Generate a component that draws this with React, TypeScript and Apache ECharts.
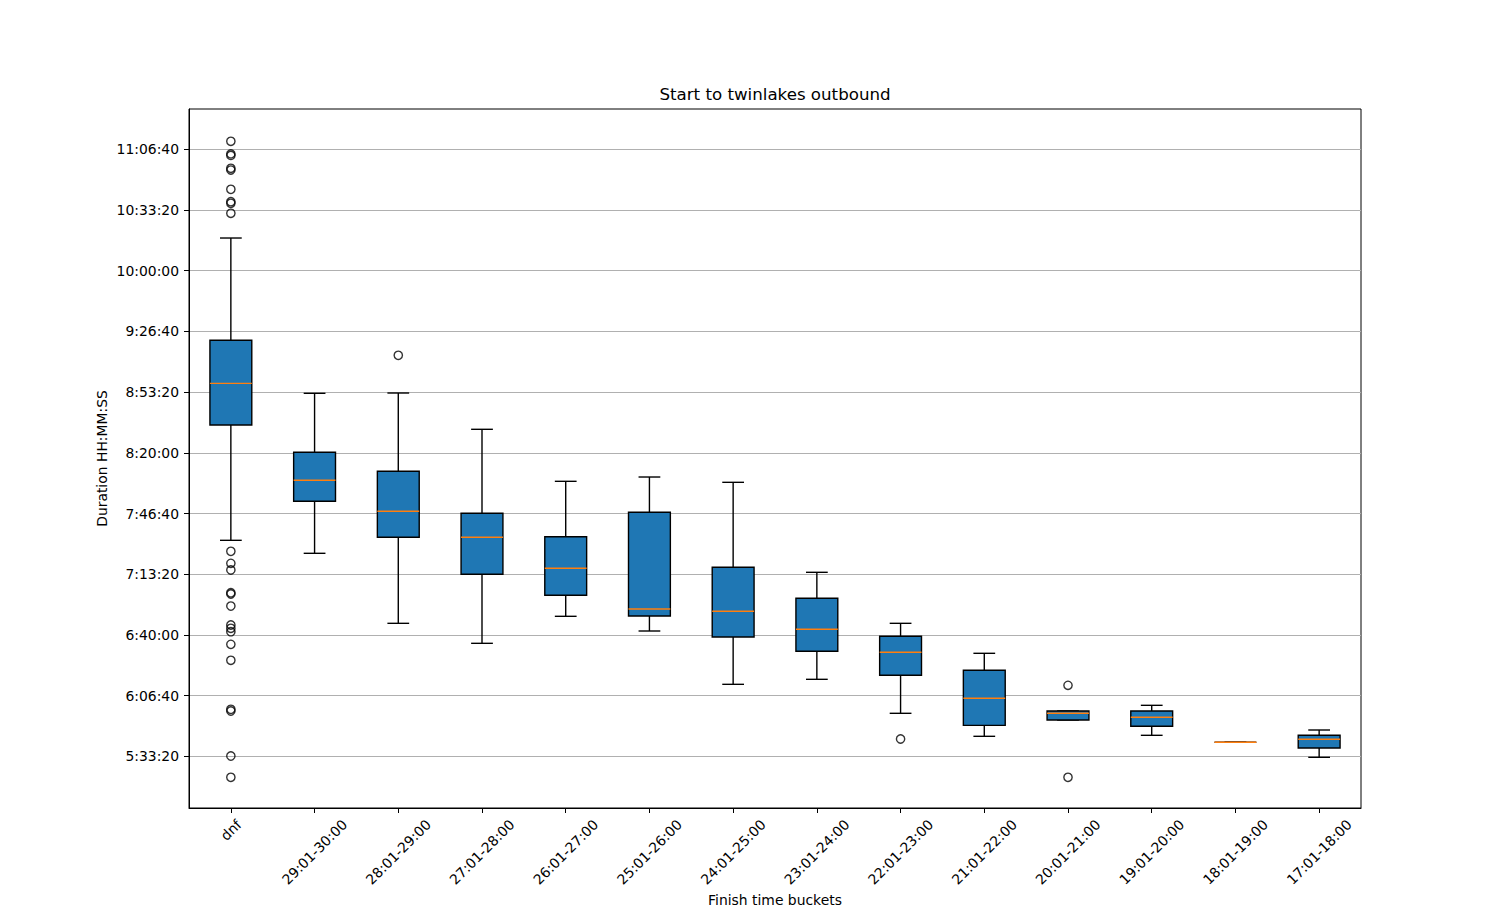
import React, { useEffect, useRef } from "react";
import * as echarts from "echarts";

const categories = [
  "dnf", "29:01-30:00", "28:01-29:00", "27:01-28:00", "26:01-27:00", "25:01-26:00",
  "24:01-25:00", "23:01-24:00", "22:01-23:00", "21:01-22:00", "20:01-21:00",
  "19:01-20:00", "18:01-19:00", "17:01-18:00",
];

// [lower whisker, Q1, median, Q3, upper whisker] in seconds
const boxStats = [
  [27117, 30916, 32290, 33707, 37078],
  [26689, 28402, 29094, 30017, 31961],
  [24382, 27216, 28073, 29391, 31971],
  [23723, 25997, 27216, 28007, 30775],
  [24613, 25305, 26195, 27236, 29061],
  [24129, 24623, 24854, 28040, 29203],
  [22372, 23931, 24778, 26228, 29028],
  [22537, 23460, 24185, 25206, 26063],
  [21417, 22669, 23427, 23954, 24382],
  [20659, 21021, 21911, 22834, 23394],
  [21196, 21196, 21417, 21493, 21493],
  [20692, 20989, 21285, 21493, 21680],
  [20461, 20461, 20461, 20461, 20461],
  [19967, 20273, 20560, 20692, 20867],
];

// [category index, seconds]
const outliers = [
  [0, 40264], [0, 39850], [0, 39800], [0, 39375], [0, 39318], [0, 38683],
  [0, 38274], [0, 38221], [0, 37892], [0, 26755], [0, 26359], [0, 26139],
  [0, 25391], [0, 25348], [0, 24952], [0, 24326], [0, 24218], [0, 24106],
  [0, 23690], [0, 23163], [0, 21549], [0, 21493], [0, 20010], [0, 19308],
  [2, 33213],
  [8, 20570],
  [10, 22339], [10, 19308],
];

const yTicks = [20000, 22000, 24000, 26000, 28000, 30000, 32000, 34000, 36000, 38000, 40000];
const yMin = 18297;
const yMax = 41329;

const FONT = "DejaVu Sans";

function fmt(sec: number): string {
  const s = Math.round(sec);
  const h = Math.floor(s / 3600);
  const m = Math.floor((s % 3600) / 60);
  const ss = s % 60;
  return `${h}:${String(m).padStart(2, "0")}:${String(ss).padStart(2, "0")}`;
}

export default function App() {
  const ref = useRef<HTMLDivElement>(null);
  useEffect(() => {
    if (!ref.current) return;
    const chart = echarts.init(ref.current, null, { renderer: "svg" });
    const boxData = boxStats.map((b, i) => [i, ...b]);
    chart.setOption({
      animation: false,
      backgroundColor: "#ffffff",
      title: {
        text: "Start to twinlakes outbound",
        left: 775,
        top: 86,
        padding: 0,
        textAlign: "center",
        textStyle: { fontFamily: FONT, fontSize: 16.67, fontWeight: "normal", color: "#000" },
      },
      grid: {
        left: 189, right: 151, top: 109, bottom: 101,
        outerBoundsMode: "none",
        containLabel: false,
        show: true, borderColor: "#000", borderWidth: 1, backgroundColor: "transparent",
      },
      xAxis: {
        type: "category",
        data: categories,
        boundaryGap: true,
        name: "Finish time buckets",
        nameLocation: "middle",
        nameGap: 85,
        nameMoveOverlap: false,
        nameTextStyle: { fontFamily: FONT, fontSize: 13.9, color: "#000" },
        axisLine: { show: true, lineStyle: { color: "#000", width: 1 } },
        axisTick: { show: true, alignWithLabel: true, length: 5, lineStyle: { color: "#000", width: 1 } },
        axisLabel: {
          interval: 0,
          rotate: 45,
          align: "center",
          verticalAlign: "middle",
          margin: 44,
          fontFamily: FONT,
          fontSize: 13.9,
          color: "#000",
          formatter: (v: string) => (v === "dnf" ? "{d|" + v + "}" : v),
          rich: {
            d: { padding: [0, 0, 31, 31], fontFamily: FONT, fontSize: 13.9, color: "#000" },
          },
        },
        splitLine: { show: false },
      },
      yAxis: {
        type: "value",
        min: yMin,
        max: yMax,
        name: "Duration HH:MM:SS",
        nameLocation: "middle",
        nameGap: 80,
        nameMoveOverlap: false,
        nameTextStyle: { fontFamily: FONT, fontSize: 13.9, color: "#000" },
        axisLine: { show: true, lineStyle: { color: "#000", width: 1 } },
        axisTick: { show: true, length: 5, customValues: yTicks, lineStyle: { color: "#000", width: 1 } },
        axisLabel: {
          customValues: yTicks,
          margin: 10,
          fontFamily: FONT,
          fontSize: 13.9,
          color: "#000",
          formatter: (v: number) => fmt(v),
        },
        splitLine: { show: true, lineStyle: { color: "#b0b0b0", width: 1.1 } },
      },
      series: [
        {
          type: "custom",
          data: boxData,
          encode: { x: 0, y: [1, 2, 3, 4, 5] },
          renderItem: (params: any, api: any) => {
            const x = api.value(0);
            const lo = api.coord([x, api.value(1)]);
            const q1 = api.coord([x, api.value(2)]);
            const md = api.coord([x, api.value(3)]);
            const q3 = api.coord([x, api.value(4)]);
            const hi = api.coord([x, api.value(5)]);
            const band = api.size([1, 0])[0];
            const bw = band * 0.5;
            const cw = band * 0.26;
            const cx = lo[0];
            const ls = { stroke: "#000", lineWidth: 1.4 };
            return {
              type: "group",
              children: [
                { type: "line", shape: { x1: cx, y1: lo[1], x2: cx, y2: q1[1] }, style: ls },
                { type: "line", shape: { x1: cx, y1: q3[1], x2: cx, y2: hi[1] }, style: ls },
                { type: "line", shape: { x1: cx - cw / 2, y1: lo[1], x2: cx + cw / 2, y2: lo[1] }, style: ls },
                { type: "line", shape: { x1: cx - cw / 2, y1: hi[1], x2: cx + cw / 2, y2: hi[1] }, style: ls },
                {
                  type: "rect",
                  shape: { x: cx - bw / 2, y: q3[1], width: bw, height: q1[1] - q3[1] },
                  style: { fill: "#1f77b4", stroke: "#000", lineWidth: 1.4 },
                },
                {
                  type: "line",
                  shape: { x1: cx - bw / 2, y1: md[1], x2: cx + bw / 2, y2: md[1] },
                  style: { stroke: "#ff7f0e", lineWidth: 1.4 },
                },
              ],
            };
          },
          z: 2,
        },
        {
          type: "scatter",
          data: outliers,
          symbol: "circle",
          symbolSize: 8.3,
          itemStyle: { color: "rgba(0,0,0,0)", borderColor: "#000", borderWidth: 1.4 },
          z: 3,
        },
      ],
    });
    return () => chart.dispose();
  }, []);
  return (
    <div
      ref={ref}
      style={{ position: "absolute", left: 0, top: 0, width: 1512, height: 909 }}
    />
  );
}
